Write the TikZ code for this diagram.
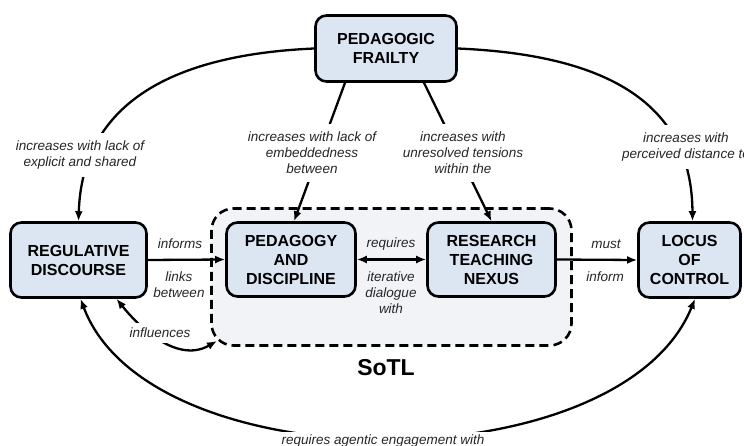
\documentclass[tikz,border=0pt]{standalone}
\usepackage{fontspec}
\setmainfont{Liberation Sans}
\usetikzlibrary{arrows.meta}
\definecolor{boxblue}{HTML}{DCE6F2}
\definecolor{sotlgrey}{HTML}{F2F3F7}
\begin{document}
\begin{tikzpicture}[x=1pt,y=-1pt,
  box/.style={draw, line width=2.6pt, rounded corners=11pt, fill=boxblue,
    font=\fontsize{16}{19}\selectfont\bfseries, align=center, inner sep=0pt},
  lab/.style={font=\fontsize{13.5}{16}\selectfont\itshape, align=center, text=black!85, inner sep=1pt},
  wlab/.style={lab, fill=white, inner xsep=6pt, inner ysep=8pt},
  conn/.style={line width=2.3pt, -{Latex[length=10pt,width=8pt]}},
  dconn/.style={line width=2.3pt, {Latex[length=10pt,width=8pt]}-{Latex[length=10pt,width=8pt]}},
  sotlbox/.style={draw, line width=2.6pt, dash pattern=on 9pt off 5pt, rounded corners=22pt, fill=sotlgrey,
    minimum width=360pt, minimum height=137pt, inner sep=0pt}
]
\useasboundingbox (0,0) rectangle (744,446);
\clip (0,0) rectangle (744,446);

% SoTL container
\node[sotlbox] (sotl) at (391.5,277) {};
\node[font=\fontsize{23}{26}\selectfont\bfseries] (sotllab) at (386,368) {SoTL};
\coordinate (sotlcorner) at (217,341);

% main boxes
\node[box, minimum width=141pt, minimum height=66pt] (pf) at (386,48.5) {PEDAGOGIC\\FRAILTY};
\node[box, minimum width=136pt, minimum height=75pt] (reg) at (78.5,260) {REGULATIVE\\DISCOURSE};
\node[box, minimum width=129pt, minimum height=74pt] (pd) at (291,259.5) {PEDAGOGY\\AND\\DISCIPLINE};
\node[box, minimum width=128pt, minimum height=74pt] (rtn) at (491.5,259.5) {RESEARCH\\TEACHING\\NEXUS};
\node[box, minimum width=102pt, minimum height=75pt] (loc) at (689.5,260) {LOCUS\\OF\\CONTROL};

% connectors
\draw[conn] (pf.west) .. controls (165,55) and (82,108) .. (reg.north);
\draw[conn] (pf.east) .. controls (610,55) and (692,105) .. ([xshift=3pt]loc.north);
\draw[conn] ([xshift=-41pt]pf.south) -- ([xshift=3pt]pd.north);
\draw[conn] ([xshift=38pt]pf.south) -- (rtn.north);
\draw[conn] (reg.east) -- (pd.west);
\draw[dconn] (pd.east) -- (rtn.west);
\draw[conn] (rtn.east) -- (loc.west);
\draw[dconn] ([xshift=38pt]reg.south) .. controls (135,322) and (175,365) .. (sotlcorner);
\draw[dconn] ([xshift=2pt]reg.south) .. controls (150,484) and (620,484) .. ([xshift=5.5pt]loc.south);

% labels
\node[wlab] (l1) at (80,155) {increases with lack of\\explicit and shared};
\node[wlab] (l2) at (312,153) {increases with lack of\\embeddedness\\between};
\node[wlab] (l3) at (463,153) {increases with\\unresolved tensions\\within the};
\node[wlab] (l4) at (686,147) {increases with\\perceived distance to};
\node[lab] (l5) at (180,244) {informs};
\node[lab] (l6) at (179,285) {links\\between};
\node[lab] (l7) at (391,244) {requires};
\node[lab] (l8) at (391,293) {iterative\\dialogue\\with};
\node[lab] (l9) at (606,244) {must};
\node[lab] (l10) at (605,277) {inform};
\node[wlab, inner ysep=5pt] (l11) at (160,333) {influences};
\node[wlab, inner xsep=28pt, inner ysep=3pt] (l12) at (383,441) {requires agentic engagement with};
\end{tikzpicture}
\end{document}
